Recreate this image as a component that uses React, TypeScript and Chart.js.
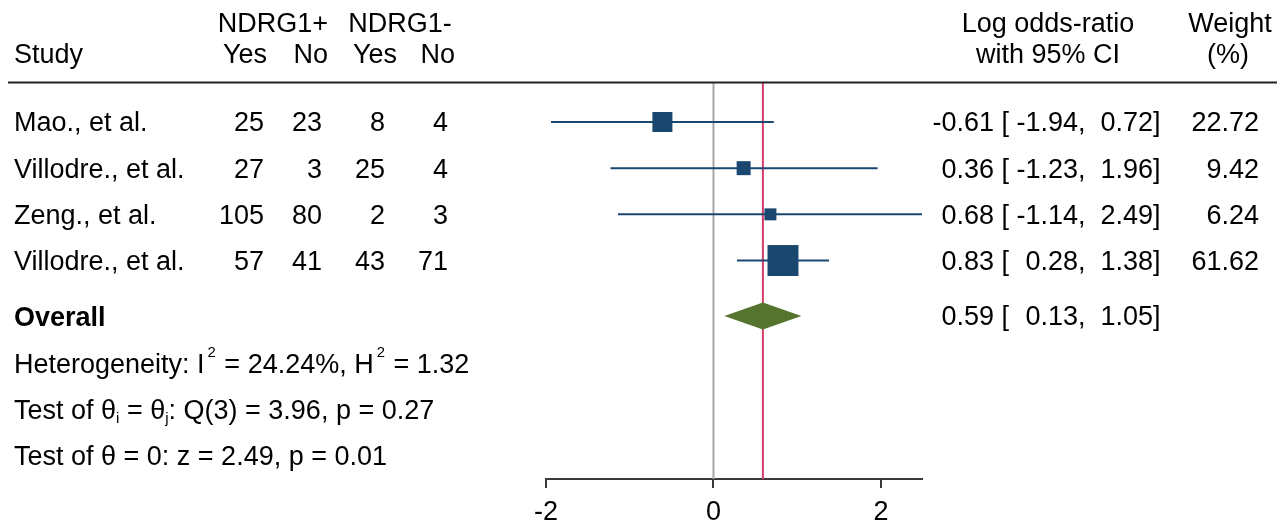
import React, { useEffect, useRef } from 'react';
import { Chart, registerables } from 'chart.js';

Chart.register(...registerables);

// ---- data ----
const studies = ['Mao., et al.', 'Villodre., et al.', 'Zeng., et al.', 'Villodre., et al.'];
const posYes = [25, 27, 105, 57];
const posNo = [23, 3, 80, 41];
const negYes = [8, 25, 2, 43];
const negNo = [4, 4, 3, 71];
const logOR = [-0.61, 0.36, 0.68, 0.83];
const ciLow = [-1.94, -1.23, -1.14, 0.28];
const ciHigh = [0.72, 1.96, 2.49, 1.38];
const weights = [22.72, 9.42, 6.24, 61.62];
const overallEst = 0.59;
const overallLow = 0.13;
const overallHigh = 1.05;
const hetI2 = 24.24;
const hetH2 = 1.32;
const qDf = 3;
const qStat = 3.96;
const qP = 0.27;
const zStat = 2.49;
const zP = 0.01;
const xTicks = [-2, 0, 2];
const xMin = -2;
const xMax = 2.49;

// ---- styles ----
const FONT = '"Liberation Sans", Arial, Helvetica, sans-serif';
const FS = 27;
const NAVY = '#1a476f';
const GREEN = '#55752f';
const RED = '#d43d6a';
const GREY = '#a6a6a6';
const AXIS = '#3a3a3a';

const fmt = (v: number) => v.toFixed(2);

export default function App() {
  const ref = useRef<HTMLCanvasElement>(null);

  useEffect(() => {
    const canvas = ref.current;
    if (!canvas) return;

    const studyRows = studies.map((_, i) => i + 1);
    const overallRow = studies.length + 1.2;
    const noteRows = [overallRow + 1.02, overallRow + 2.03, overallRow + 3.03];
    const yMin = 0.156;
    const yMax = 8.73;

    const textPlugin = {
      id: 'forestText',
      afterDatasetsDraw(chart: any) {
        const ctx: CanvasRenderingContext2D = chart.ctx;
        const xs = chart.scales.x;
        const ys = chart.scales.y;
        const reg = `${FS}px ${FONT}`;
        const bold = `bold ${FS}px ${FONT}`;
        const put = (t: string, x: number, y: number, align: CanvasTextAlign = 'left', font = reg) => {
          ctx.font = font;
          ctx.textAlign = align;
          ctx.textBaseline = 'alphabetic';
          ctx.fillText(t, x, y);
          return ctx.measureText(t).width;
        };
        ctx.save();

        // diamond for overall
        const dy = ys.getPixelForValue(overallRow);
        ctx.fillStyle = GREEN;
        ctx.beginPath();
        ctx.moveTo(xs.getPixelForValue(overallLow), dy);
        ctx.lineTo(xs.getPixelForValue(overallEst), dy - 13.5);
        ctx.lineTo(xs.getPixelForValue(overallHigh), dy);
        ctx.lineTo(xs.getPixelForValue(overallEst), dy + 13.5);
        ctx.closePath();
        ctx.fill();

        ctx.fillStyle = '#000';
        // headers
        put('NDRG1+', 273, 32, 'center');
        put('NDRG1-', 400, 32, 'center');
        put('Log odds-ratio', 1048, 32, 'center');
        put('Weight', 1230, 32, 'center');
        put('Study', 14, 63);
        put('Yes', 267, 63, 'right');
        put('No', 328, 63, 'right');
        put('Yes', 397, 63, 'right');
        put('No', 455, 63, 'right');
        put('with 95% CI', 1048, 63, 'center');
        put('(%)', 1228, 63, 'center');

        // header rule
        ctx.strokeStyle = '#222';
        ctx.lineWidth = 2;
        ctx.beginPath();
        ctx.moveTo(8, 82.5);
        ctx.lineTo(1277, 82.5);
        ctx.stroke();

        const estCols = (est: number, lo: number, hi: number, y: number) => {
          put(fmt(est), 994, y, 'right');
          put('[', 1001.5, y, 'left');
          put(fmt(lo), 1078, y, 'right');
          put(',', 1078, y, 'left');
          put(fmt(hi), 1153, y, 'right');
          put(']', 1153, y, 'left');
        };

        studies.forEach((s, i) => {
          const y = ys.getPixelForValue(studyRows[i]) + 9.5;
          put(s, 14, y);
          put(String(posYes[i]), 264, y, 'right');
          put(String(posNo[i]), 322, y, 'right');
          put(String(negYes[i]), 385, y, 'right');
          put(String(negNo[i]), 448, y, 'right');
          estCols(logOR[i], ciLow[i], ciHigh[i], y);
          put(fmt(weights[i]), 1259, y, 'right');
        });

        const oy = ys.getPixelForValue(overallRow) + 10.5;
        put('Overall', 14, oy, 'left', bold);
        estCols(overallEst, overallLow, overallHigh, ys.getPixelForValue(overallRow) + 9.5);

        const small = `${FS * 0.55}px ${FONT}`;
        const sub = `${FS * 0.56}px ${FONT}`;
        // heterogeneity
        let y = ys.getPixelForValue(noteRows[0]) + 9.5;
        let x = 14;
        x += put('Heterogeneity: I', x, y);
        x += put('2', x + 3, y - 16, 'left', small) + 4;
        x += put(` = ${fmt(hetI2)}%, H`, x, y);
        x += put('2', x + 3, y - 16, 'left', small) + 4;
        put(` = ${fmt(hetH2)}`, x, y);

        // test of homogeneity
        y = ys.getPixelForValue(noteRows[1]) + 9.5;
        x = 14;
        x += put('Test of θ', x, y);
        x += put('i', x, y + 4, 'left', sub);
        x += put(' = θ', x, y);
        x += put('j', x, y + 4, 'left', sub);
        put(`: Q(${qDf}) = ${fmt(qStat)}, p = ${fmt(qP)}`, x, y);

        // test of effect
        y = ys.getPixelForValue(noteRows[2]) + 9.5;
        put(`Test of θ = 0: z = ${fmt(zStat)}, p = ${fmt(zP)}`, 14, y);

        ctx.restore();
      },
    };

    const refLine = (xv: number, color: string) => ({
      type: 'scatter' as const,
      data: [{ x: xv, y: yMin }, { x: xv, y: yMax }],
      showLine: true,
      borderColor: color,
      borderWidth: 2,
      pointRadius: 0,
      fill: false,
      order: 5,
    });

    const ciLines = studies.map((_, i) => ({
      type: 'scatter' as const,
      data: [{ x: ciLow[i], y: studyRows[i] }, { x: ciHigh[i], y: studyRows[i] }],
      showLine: true,
      borderColor: NAVY,
      borderWidth: 2,
      pointRadius: 0,
      fill: false,
      order: 3,
    }));

    const squares = {
      type: 'scatter' as const,
      data: logOR.map((v, i) => ({ x: v, y: studyRows[i] })),
      pointStyle: 'rect',
      pointRadius: weights.map((w) => (3.1 + 3.55 * Math.sqrt(w)) / Math.SQRT2),
      backgroundColor: NAVY,
      borderWidth: 0,
      showLine: false,
      order: 1,
    };

    const chart = new Chart(canvas, {
      type: 'scatter',
      data: {
        datasets: [refLine(0, GREY), refLine(overallEst, RED), ...ciLines, squares] as any,
      },
      plugins: [textPlugin],
      options: {
        responsive: false,
        animation: false,
        events: [],
        layout: { padding: { left: 546, right: 364, top: 83, bottom: 0 } },
        plugins: { legend: { display: false }, tooltip: { enabled: false } },
        scales: {
          x: {
            type: 'linear',
            min: xMin,
            max: xMax,
            afterBuildTicks: (scale: any) => {
              scale.ticks = xTicks.map((v) => ({ value: v }));
            },
            afterFit: (scale: any) => {
              scale.height = 44;
            },
            grid: {
              drawOnChartArea: false,
              drawTicks: true,
              tickLength: 9,
              color: AXIS,
              lineWidth: 2,
            },
            border: { display: true, color: AXIS, width: 2 },
            ticks: {
              color: '#000',
              padding: 8,
              font: { family: FONT, size: FS, lineHeight: 1.2 },
              maxRotation: 0,
              autoSkip: false,
              callback: (v: any) => String(v),
            },
          },
          y: {
            type: 'linear',
            display: false,
            reverse: true,
            min: yMin,
            max: yMax,
          },
        },
      } as any,
    });

    return () => chart.destroy();
  }, []);

  return (
    <div style={{ position: 'fixed', left: 0, top: 0, width: 1286, height: 523, background: '#fff' }}>
      <canvas ref={ref} width={1286} height={523} style={{ display: 'block' }} />
    </div>
  );
}
